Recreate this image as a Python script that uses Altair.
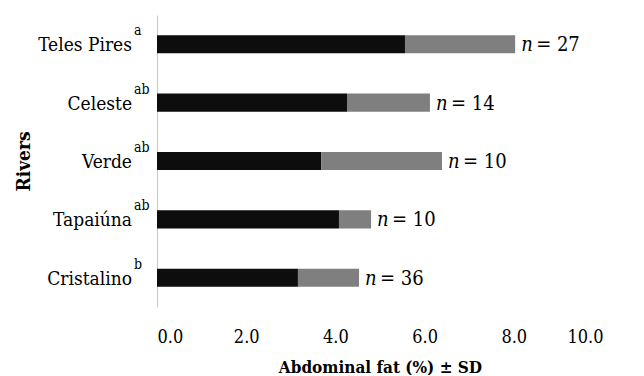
import altair as alt
import pandas as pd

rivers = ["Teles Pires", "Celeste", "Verde", "Tapaiúna", "Cristalino"]
letters = ["a", "ab", "ab", "ab", "b"]
means = [5.56, 4.26, 3.68, 4.08, 3.16]
sds = [2.47, 1.86, 2.71, 0.72, 1.37]
ns = [27, 14, 10, 10, 36]

df = pd.DataFrame({
    "river": rivers,
    "letter": letters,
    "mean": means,
    "sd": sds,
    "n": ns,
})
df["total"] = df["mean"] + df["sd"]
df["nlabel"] = ["= " + str(v) for v in ns]

FONT = "'DejaVu Serif Condensed', 'DejaVu Serif'"

y_enc = alt.Y(
    "river:N",
    sort=rivers,
    scale=alt.Scale(paddingInner=0.69, paddingOuter=0.345),
    axis=alt.Axis(
        labels=False, ticks=False, tickSize=0, title="Rivers",
        titleFont=FONT, titleFontSize=19, titleFontWeight="bold",
        titleColor="#000", titlePadding=124,
        domainColor="#c8c8c8", domainWidth=1,
    ),
)

x_enc = alt.X(
    "mean:Q",
    scale=alt.Scale(domain=[0, 10], nice=False),
    axis=alt.Axis(
        values=[0, 2, 4, 6, 8, 10], format=".1f", grid=False, domain=False,
        ticks=False, tickSize=0, labelFont=FONT, labelFontSize=18,
        labelColor="#000", labelPadding=21,
        title="Abdominal  fat (%) ± SD", titleFont=FONT, titleFontSize=17,
        titleFontWeight="bold", titleColor="#000", titlePadding=13,
    ),
)

base = alt.Chart(df)

mean_bar = base.mark_bar(color="#0d0d0d").encode(x=x_enc, y=y_enc)

sd_bar = base.mark_bar(color="#7f7f7f").encode(
    x=alt.X("mean:Q"), x2="total:Q", y=alt.Y("river:N", sort=rivers)
)

n_italic = base.mark_text(
    align="left", baseline="middle", dx=6, dy=1, font=FONT, fontSize=20,
    fontStyle="italic", color="#000"
).encode(x="total:Q", y=alt.Y("river:N", sort=rivers), text=alt.value("n"))

n_value = base.mark_text(
    align="left", baseline="middle", dx=21, dy=1, font=FONT, fontSize=20,
    color="#000"
).encode(x="total:Q", y=alt.Y("river:N", sort=rivers), text="nlabel:N")

river_text = base.mark_text(
    align="right", baseline="middle", dy=1, font=FONT, fontSize=19, color="#000"
).encode(x=alt.value(-25), y=alt.Y("river:N", sort=rivers), text="river:N")

letter_text = base.mark_text(
    align="left", baseline="alphabetic", dy=-9, font=FONT, fontSize=14, color="#000"
).encode(x=alt.value(-23), y=alt.Y("river:N", sort=rivers), text="letter:N")

chart = alt.layer(mean_bar, sd_bar, n_italic, n_value, river_text, letter_text).properties(
    width=446,
    height=292,
    autosize=alt.AutoSizeParams(type="none"),
    padding={"left": 149, "top": 7, "right": 30, "bottom": 68},
    background="#ffffff",
).configure_view(stroke=None)

chart.save("out.html", embed_options={"renderer": "svg", "actions": False})
